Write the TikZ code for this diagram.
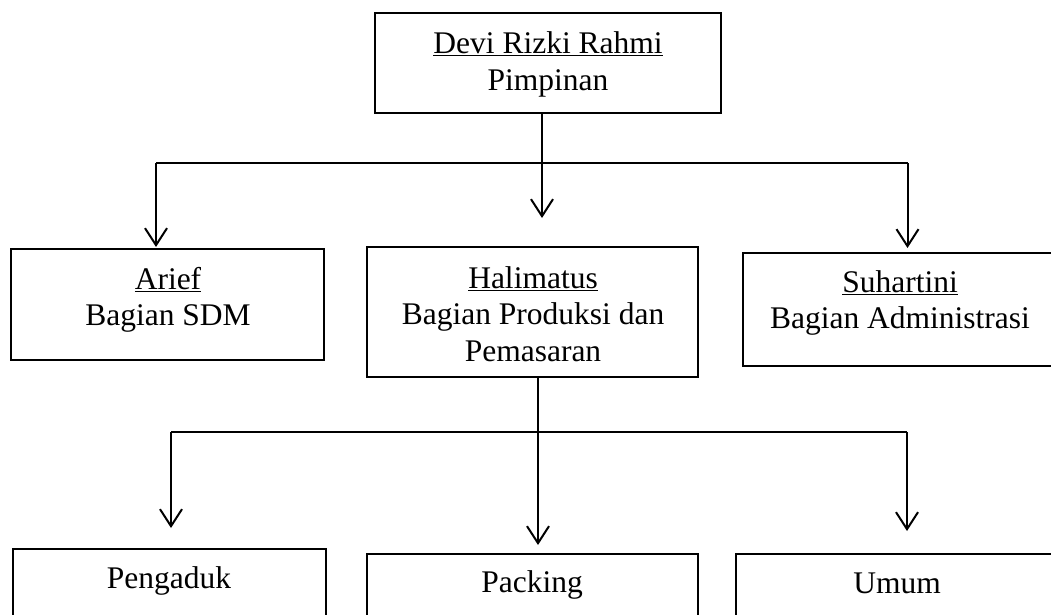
\documentclass[tikz,border=0pt]{standalone}
\usepackage{fontspec}
\setmainfont{Liberation Serif}
\usetikzlibrary{arrows.meta}
\newcommand\firststrut{\rule{0pt}{25pt}}
\begin{document}
\begin{tikzpicture}[x=1pt,y=-1pt,
  box/.style={draw=black, line width=2.5pt, inner sep=0pt, outer sep=0pt, anchor=north west},
  txt/.style={anchor=north, inner sep=0pt, align=center, font=\fontsize{31.5}{36.5}\selectfont},
  arr/.style={line width=2pt, -{Straight Barb[length=17pt,width=22pt]}},
  hln/.style={line width=1.3pt}]
\useasboundingbox (0,0) rectangle (1051,615);
\clip (0,0) rectangle (1051,615);

% boxes
\node[box, minimum width=346pt, minimum height=100pt] (top) at (375,13) {};
\node[box, minimum width=313pt, minimum height=111pt] (arief) at (11,249) {};
\node[box, minimum width=331pt, minimum height=130pt] (hal) at (367,247) {};
\node[box, minimum width=315pt, minimum height=113pt] (suh) at (743,253) {};
\node[box, minimum width=313pt, minimum height=120pt] (peng) at (13,549) {};
\node[box, minimum width=331pt, minimum height=120pt] (pack) at (367,554) {};
\node[box, minimum width=322pt, minimum height=120pt] (umum) at (736,554) {};

% texts
\node[txt] (ttop) at (548,28.5) {\firststrut\underline{Devi Rizki Rahmi}\\Pimpinan};
\node[txt] (tarief) at (168,264) {\firststrut\underline{Arief}\\Bagian SDM};
\node[txt] (thal) at (533,263) {\firststrut\underline{Halimatus}\\Bagian Produksi dan\\Pemasaran};
\node[txt] (tsuh) at (900,267) {\firststrut\underline{Suhartini}\\Bagian Administrasi};
\node[txt] (tpeng) at (169,563) {\firststrut Pengaduk};
\node[txt] (tpack) at (532,567) {\firststrut Packing};
\node[txt] (tumum) at (897,568) {\firststrut Umum};

% first level connectors
\coordinate (jA) at (156,163);
\coordinate (jB) at (907.5,163);
\coordinate (tipH) at (542,218);
\coordinate (tipA) at (156,247);
\coordinate (tipS) at (907.5,248);
\draw[hln] (jA) -- (jB);
\draw[arr] (top.south -| tipH) -- (tipH);
\draw[arr] (jA) -- (tipA);
\draw[arr] (jB) -- (tipS);

% second level connectors
\coordinate (jC) at (171,432);
\coordinate (jD) at (907,432);
\coordinate (tipP) at (538,545);
\coordinate (tipG) at (171,528);
\coordinate (tipU) at (907,531);
\draw[hln] (jC) -- (jD);
\draw[arr] (hal.south -| tipP) -- (tipP);
\draw[arr] (jC) -- (tipG);
\draw[arr] (jD) -- (tipU);
\end{tikzpicture}
\end{document}
